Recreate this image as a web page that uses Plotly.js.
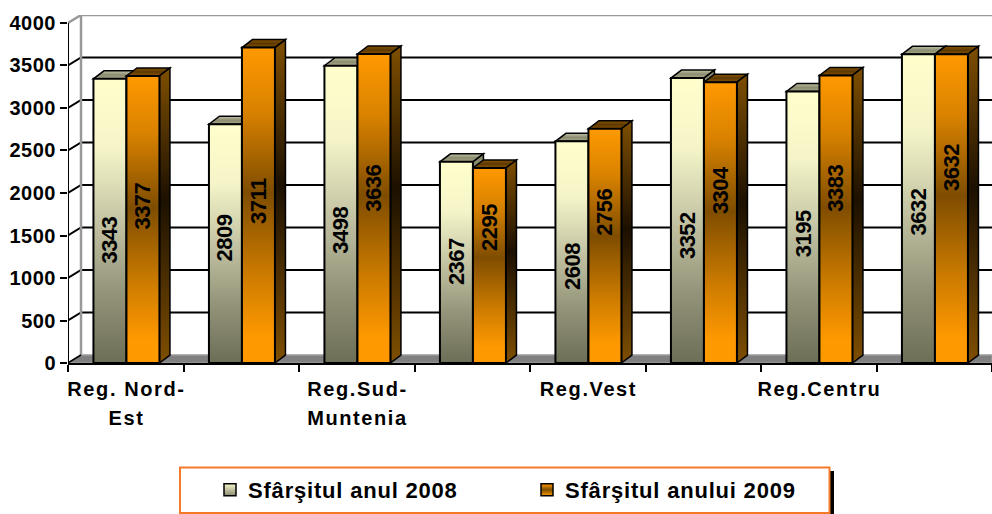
<!DOCTYPE html>
<html><head><meta charset="utf-8">
<script src="https://cdn.plot.ly/plotly-3.0.1.min.js"></script>
<style>
html,body{margin:0;padding:0;background:#fff}
.xtick text{letter-spacing:1.6px}
.ytick text{letter-spacing:.5px}
.legendtext{letter-spacing:.8px}
.annotation-text{letter-spacing:-.5px}
</style></head><body><div id="g" style="width:992px;height:514px"></div>
<script>
const categories=["Reg. Nord-Est","","Reg.Sud-Muntenia","","Reg.Vest","","Reg.Centru",""];
const tickLabels=["Reg. Nord-<br>Est","","Reg.Sud-<br>Muntenia","","Reg.Vest","","Reg.Centru",""];
const series2008=[3343,2809,3498,2367,2608,3352,3195,3632];
const series2009=[3377,3711,3636,2295,2756,3304,3383,3632];
const name2008="Sfârşitul anul 2008", name2009="Sfârşitul anului 2009";
const yTicks=[0,500,1000,1500,2000,2500,3000,3500,4000];
// vertical centre of the printed value labels, in axis units
const labelPos2008=[1451,1471,1568,1192,1141,1498,1526,1776];
const labelPos2009=[1851,1912,2062,1594,1780,2039,2062,2300];

const W=.2857, BDX=.091, BDY=94, WDX=.1126, WDY=94, N=categories.length, TOP=4094;
const pos=categories.map((c,i)=>i+.506);
const shapes=[], shapeFill={};
function poly(pts,o,grad){
  const path='M'+pts.map(p=>p[0]+' '+p[1]).join(' L')+' Z';
  if(grad) shapeFill[shapes.length]=grad;
  shapes.push(Object.assign({type:'path',xref:'x',yref:'y',layer:'below',path},o));
}
function poly0(pts,color,width){
  shapes.push({type:'path',xref:'x',yref:'y',layer:'below',
    path:'M'+pts.map(p=>p[0]+' '+p[1]).join(' L'),line:{color,width}});
}
// floor and walls
poly([[0,0],[WDX,WDY],[N,WDY],[N,0]],{fillcolor:'#808080',line:{color:'#9a9a9a',width:1.5}});
yTicks.forEach(t=>{
  if(t===0) return;
  const top=t===4000;
  poly0([[0,t],[WDX,t+WDY],[N,t+WDY]],top?'#999999':'#000000',top?2.5:2);
});
poly0([[WDX,WDY],[WDX,4000+WDY]],'#999999',2.5);
poly0([[0,0],[WDX,WDY]],'#000000',1.5);
poly0([[0,0],[0,4000]],'#000000',2);
// top and side faces
function faces(vals,off,topGrad,sideGrad,tcol,scol){
  vals.forEach((v,i)=>{
    const x0=pos[i]+off, x1=x0+W;
    const ln={color:'#000000',width:1.5};
    poly([[x0,v],[x1,v],[x1+BDX,v+BDY],[x0+BDX,v+BDY]],{fillcolor:tcol,line:ln},topGrad);
    poly([[x1,0],[x1,v],[x1+BDX,v+BDY],[x1+BDX,BDY]],{fillcolor:scol,line:ln},sideGrad);
  });
}
faces(series2008,-W,'gTopL','gSideL','#a0a084','#77775c');
faces(series2009,0,'gTopO','gSideO','#7f4f00','#7f4f00');

const lblFont={family:'Liberation Sans, Arial, sans-serif',size:22,weight:700,color:'#000'};
const annotations=[];
[[series2008,labelPos2008,-W/2],[series2009,labelPos2009,W/2]].forEach(([vals,lp,off])=>{
  vals.forEach((v,i)=>annotations.push({xref:'x',yref:'y',x:pos[i]+off,y:lp[i],text:String(v),
    textangle:-90,showarrow:false,font:lblFont,xanchor:'center',yanchor:'middle'}));
});
// legend frame (paper coordinates derived from the plot box)
const px=x=>(x-68)/924, py=y=>(363-y)/348;
shapes.push({type:'rect',xref:'paper',yref:'paper',x0:px(826),x1:px(834),y0:py(514),y1:py(471),fillcolor:'#000',line:{width:0},layer:'above'});
shapes.push({type:'rect',xref:'paper',yref:'paper',x0:px(180),x1:px(829.5),y0:py(513),y1:py(467.5),fillcolor:'#fff',line:{color:'#f47a2a',width:2},layer:'above'});

const common={type:'bar',x:pos,hoverinfo:'skip',textposition:'none'};
const traces=[
 Object.assign({},common,{name:name2008,y:series2008,marker:{color:'#d8d8b0',line:{color:'#000',width:2}}}),
 Object.assign({},common,{name:name2009,y:series2009,marker:{color:'#c07800',line:{color:'#000',width:2}}})
];
const layout={width:992,height:514,autosize:false,margin:{l:68,r:0,t:15,b:151,pad:0},
 paper_bgcolor:'#fff',plot_bgcolor:'rgba(0,0,0,0)',barmode:'group',bargap:1-2*W,bargroupgap:0,
 font:{family:'Liberation Sans, Arial, sans-serif',size:20,color:'#000',weight:700},
 xaxis:{range:[0,N],tickmode:'array',tickvals:pos,ticktext:tickLabels,ticks:'',showgrid:false,zeroline:false,
   showline:true,linecolor:'#000',linewidth:2,fixedrange:true,tickangle:0,ticklabelstandoff:7,
   tickfont:{size:20,weight:700,family:'Liberation Sans, Arial, sans-serif',color:'#000'},
   minor:{tickmode:'array',tickvals:[0,1,2,3,4,5,6,7,8],ticks:'outside',ticklen:7,tickwidth:2,tickcolor:'#000',showgrid:false}},
 yaxis:{range:[0,TOP],tickmode:'array',tickvals:yTicks,ticks:'outside',ticklen:7,tickwidth:2,tickcolor:'#000',
   showgrid:false,zeroline:false,showline:false,fixedrange:true,
   tickfont:{size:20,weight:700,family:'Liberation Sans, Arial, sans-serif',color:'#000'}},
 showlegend:true,
 legend:{orientation:'h',xref:'container',yref:'container',x:210/992,xanchor:'left',y:1-469/514,yanchor:'top',bgcolor:'rgba(0,0,0,0)',borderwidth:0,
   entrywidth:272,entrywidthmode:'pixels',traceorder:'normal',font:{size:22,weight:700,family:'Liberation Sans, Arial, sans-serif',color:'#000'}},
 shapes,annotations};

const grads={
 gL:[[0,'#ffffcc'],[.25,'#f4f4c8'],[.5,'#c4c4a4'],[.75,'#94947a'],[1,'#6c6e56']],
 gO:[[0,'#ff9900'],[.2,'#d98200'],[.46,'#7f4d00'],[.72,'#cc7b00'],[.92,'#ff9900'],[1,'#ff9900']],
 gTopL:[[0,'#c4c4a8'],[.5,'#8c8c70'],[1,'#a8a88c']],
 gTopO:[[0,'#8a5500'],[.5,'#5c3800'],[1,'#8a5500']],
 gSideL:[[0,'#8c8c70'],[1,'#5c5c48']],
 gSideO:[[0,'#7f4f00'],[.45,'#1c1000'],[1,'#7f4f00']],
 gSwL:[[0,'#f6f6cc'],[1,'#8a8a70']],
 gSwO:[[0,'#ff9900'],[.5,'#7f4d00'],[1,'#ff9900']]
};
const gd=document.getElementById('g');
Plotly.newPlot(gd,traces,layout,{displayModeBar:false,staticPlot:true}).then(()=>{
  const NS='http://www.w3.org/2000/svg', svg=gd.querySelector('.main-svg');
  const defs=svg.querySelector('defs')||svg.insertBefore(document.createElementNS(NS,'defs'),svg.firstChild);
  for(const id in grads){
    const g=document.createElementNS(NS,'linearGradient');
    g.setAttribute('id',id);g.setAttribute('x1',0);g.setAttribute('y1',0);g.setAttribute('x2',0);g.setAttribute('y2',1);
    grads[id].forEach(([o,c])=>{const s=document.createElementNS(NS,'stop');s.setAttribute('offset',o);s.setAttribute('stop-color',c);g.appendChild(s);});
    defs.appendChild(g);
  }
  const tr=gd.querySelectorAll('.barlayer .trace');
  tr[0].querySelectorAll('.point path').forEach(p=>p.style.fill='url(#gL)');
  tr[1].querySelectorAll('.point path').forEach(p=>p.style.fill='url(#gO)');
  for(const i in shapeFill){
    const p=gd.querySelector('.shapelayer path[data-index="'+i+'"]');
    if(p) p.style.fill='url(#'+shapeFill[i]+')';
  }
  const lg=gd.querySelectorAll('.legend .traces');
  lg.forEach((t,i)=>{
    const sw=t.querySelector('.legendpoints path'); if(sw){sw.style.fill='url(#'+(i?'gSwO':'gSwL')+')';sw.style.stroke='#000';sw.style.strokeWidth='1.5px';}
    const tx=t.querySelector('.legendtext'); if(tx) tx.setAttribute('x',38);
  });
  gd.querySelectorAll('.xtick text tspan.line').forEach(s=>{
    if(s.getAttribute('dy')&&parseFloat(s.getAttribute('dy'))>0) s.setAttribute('dy','1.45em');
  });
});
</script></body></html>
